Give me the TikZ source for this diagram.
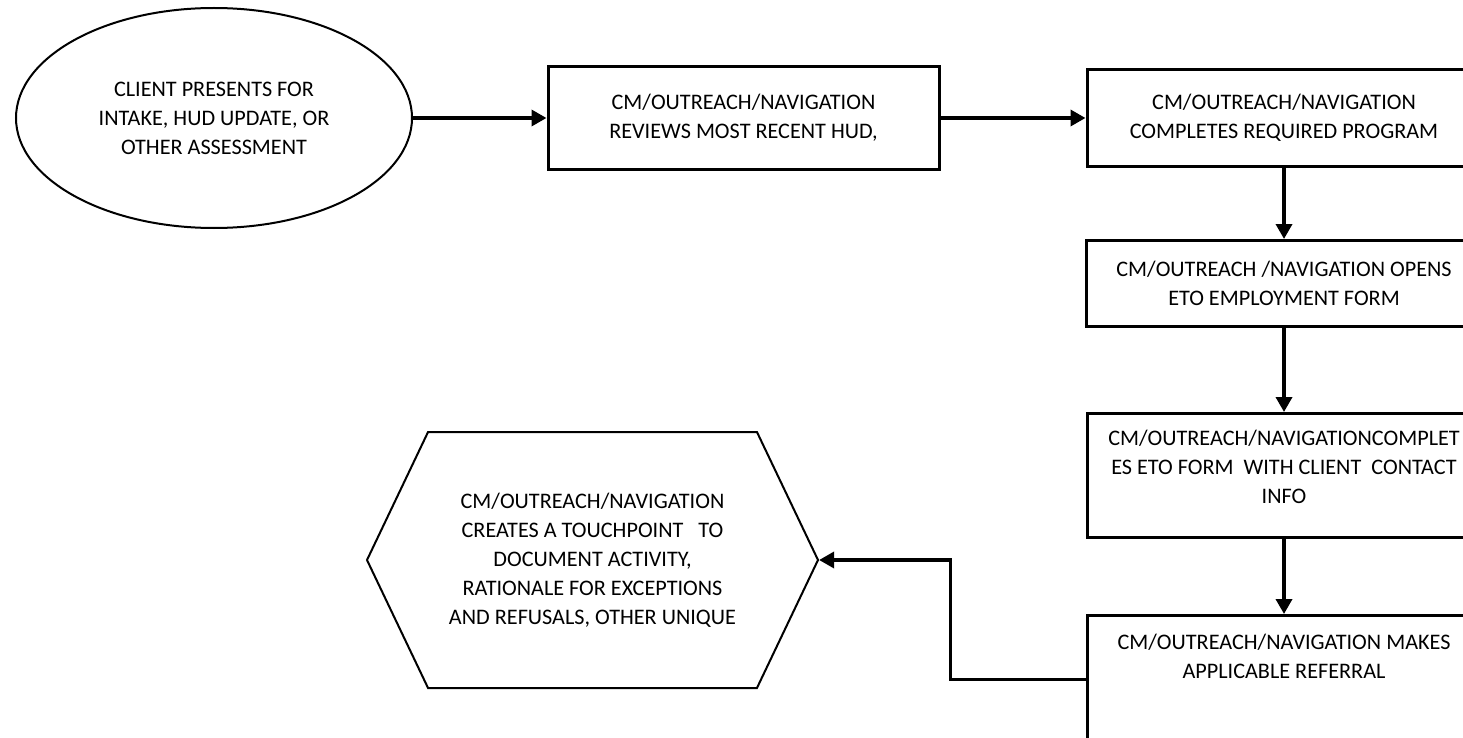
\documentclass[tikz,border=0pt]{standalone}
\usepackage{fontspec}
\setmainfont{Carlito}
\usepackage{tikz}
\usetikzlibrary{shapes,arrows.meta,positioning}
\newcommand{\flowtxt}{\fontsize{22.2}{29}\selectfont}
\tikzstyle{stepbox} = [rectangle, draw, line width=3pt, align=center, minimum width=394pt, font=\flowtxt]
\tikzstyle{startell} = [ellipse, draw, line width=2pt, align=center, minimum width=396pt, minimum height=220pt, font=\flowtxt]
\tikzstyle{hexbox} = [signal, signal to=west and east, signal pointer angle=129, draw, line width=2pt, align=center, minimum width=451pt, minimum height=256pt, font=\flowtxt]
\tikzstyle{link} = [line width=3.5pt, -{Triangle[length=15pt,width=16pt]}]

\begin{document}
\begin{tikzpicture}[x=1pt, y=-1pt, auto]
	\useasboundingbox (0,0) rectangle (1463,738);
	\node[startell] (client) at (214,118) {CLIENT PRESENTS FOR\\INTAKE, HUD UPDATE, OR\\OTHER ASSESSMENT};
	\node[stepbox, minimum width=391pt, minimum height=103pt] (reviews) [right of=client, node distance=529.5pt] {CM/OUTREACH/NAVIGATION\\REVIEWS MOST RECENT HUD,};
	\draw[link] (client) -- (reviews);
	\node[stepbox, minimum height=97pt] (completes) [right of=reviews, node distance=540.5pt] {CM/OUTREACH/NAVIGATION\\COMPLETES REQUIRED PROGRAM};
	\draw[link] (reviews) -- (completes);
	\node[stepbox, minimum width=396pt, minimum height=86pt] (opens) [below of=completes, node distance=165.5pt] {CM/OUTREACH /NAVIGATION OPENS\\ETO EMPLOYMENT FORM};
	\draw[link] (completes) -- (opens);
	\node[stepbox, minimum height=124pt, text depth=18pt] (contact) [below of=opens, node distance=192pt] {CM/OUTREACH/NAVIGATIONCOMPLET\\ES ETO FORM\ \ WITH CLIENT\ \ CONTACT\\INFO};
	\draw[link] (opens) -- (contact);
	\node[stepbox, minimum height=128pt, text depth=47pt] (referral) [below of=contact, node distance=204pt] {CM/OUTREACH/NAVIGATION MAKES\\APPLICABLE REFERRAL};
	\draw[link] (contact) -- (referral);
	% touchpoint
	\node[hexbox] (touch) at (592.5,560) {CM/OUTREACH/NAVIGATION\\CREATES A TOUCHPOINT\ \ \ TO\\DOCUMENT ACTIVITY,\\RATIONALE FOR EXCEPTIONS\\AND REFUSALS, OTHER UNIQUE};
	\draw[link] (referral.west) -- ++(-135,0) |- (touch.east);
\end{tikzpicture}
\end{document}
